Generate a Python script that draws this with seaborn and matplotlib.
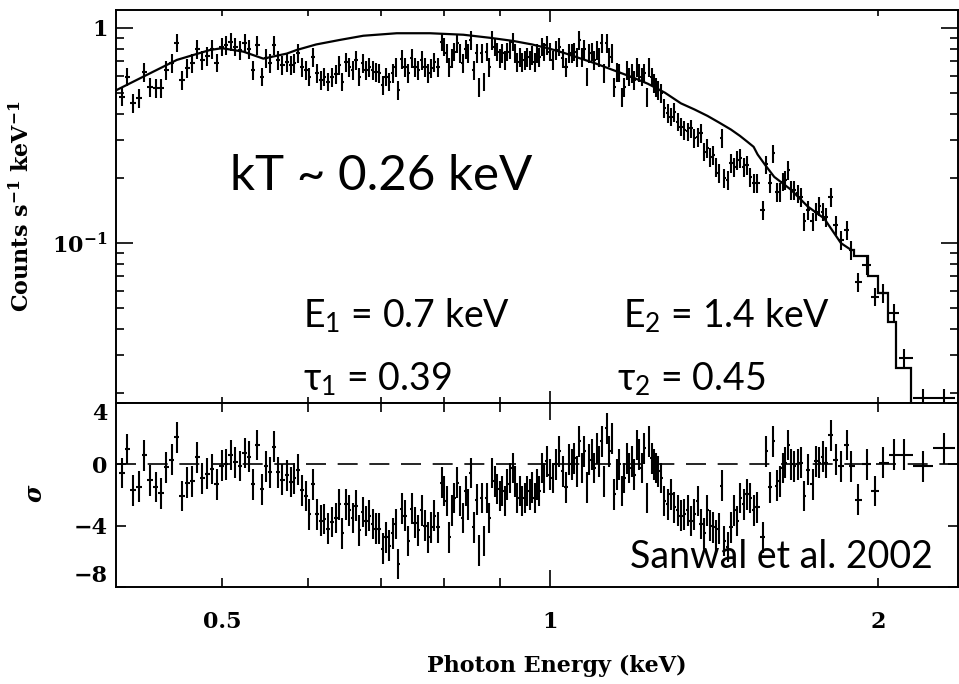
import numpy as np
import matplotlib
matplotlib.use("Agg")
import matplotlib.pyplot as plt
from matplotlib.ticker import FixedLocator, FixedFormatter, NullLocator
import seaborn as sns

# spectrum bins: energy (keV), counts s^-1 keV^-1, residual (sigma)
energy = [0.4045, 0.4093, 0.4145, 0.4196, 0.4243, 0.4294, 0.4347, 0.4395, 0.4442, 0.4496,
          0.4544, 0.4592, 0.4646, 0.4696, 0.4746, 0.4796, 0.4847, 0.4892, 0.4944, 0.4997,
          0.5042, 0.5093, 0.5143, 0.5194, 0.5246, 0.5290, 0.5342, 0.5387, 0.5438, 0.5487,
          0.5534, 0.5584, 0.5632, 0.5680, 0.5733, 0.5781, 0.5825, 0.5875, 0.5921, 0.5967,
          0.6013, 0.6064, 0.6108, 0.6160, 0.6207, 0.6259, 0.6305, 0.6358, 0.6407,
          0.6447, 0.6498, 0.6543, 0.6591, 0.6637, 0.6683, 0.6731, 0.6778, 0.6826, 0.6875,
          0.6923, 0.6972, 0.7022, 0.7071, 0.7120, 0.7172, 0.7222, 0.7257, 0.7310, 0.7361,
          0.7412, 0.7466, 0.7518, 0.7570, 0.7625, 0.7678, 0.7732, 0.7776, 0.7831, 0.7887,
          0.7954, 0.7998, 0.8039, 0.8083, 0.8129, 0.8169, 0.8221, 0.8268, 0.8315, 0.8368,
          0.8409, 0.8462, 0.8516, 0.8565, 0.8607, 0.8656, 0.8698, 0.8748, 0.8796, 0.8852,
          0.8897, 0.8946, 0.8997, 0.9041, 0.9093, 0.9137, 0.9189, 0.9242, 0.9287, 0.9332,
          0.9386, 0.9431, 0.9479, 0.9531, 0.9586, 0.9633, 0.9682, 0.9729, 0.9776, 0.9832,
          0.9880, 0.9930, 1.0000,
          1.0057, 1.0128, 1.0198, 1.0272, 1.0344, 1.0416, 1.0469, 1.0527, 1.0587, 1.0639,
          1.0700, 1.0752, 1.0813, 1.0866, 1.0928, 1.0981, 1.1044, 1.1098, 1.1155, 1.1216,
          1.1274, 1.1335, 1.1400, 1.1456, 1.1522, 1.1578, 1.1644, 1.1701, 1.1768, 1.1825,
          1.1893, 1.1951, 1.2018, 1.2077, 1.2138, 1.2205, 1.2275, 1.2335, 1.2398, 1.2466,
          1.2511, 1.2572, 1.2644,
          1.2732, 1.2824, 1.2913, 1.3004, 1.3098, 1.3190, 1.3282, 1.3378, 1.3471, 1.3565,
          1.3663, 1.3759, 1.3855, 1.3935, 1.4032, 1.4121, 1.4202, 1.4283, 1.4374, 1.4453,
          1.4557, 1.4659, 1.4762, 1.4846, 1.4950, 1.5058, 1.5163, 1.5270, 1.5380, 1.5487,
          1.5695, 1.5785, 1.5919, 1.6030, 1.6146, 1.6259, 1.6352, 1.6442, 1.6547, 1.6641,
          1.6758, 1.6879, 1.6997, 1.7116, 1.7261, 1.7422, 1.7544, 1.7667, 1.7794, 1.7918,
          1.8109, 1.8301, 1.8496, 1.8732, 1.8891, 1.9185, 1.9528, 1.9874, 2.0225, 2.0701,
          2.1143, 2.1981, 2.3008]

counts = [0.480, 0.594, 0.446, 0.471, 0.626, 0.533, 0.524, 0.524, 0.638, 0.685,
          0.855, 0.573, 0.649, 0.685, 0.800, 0.710, 0.741, 0.796, 0.690, 0.819,
          0.834, 0.864, 0.819, 0.790, 0.848, 0.800, 0.638, 0.834, 0.594, 0.723,
          0.685, 0.834, 0.710, 0.673, 0.697, 0.673, 0.685, 0.763, 0.660, 0.638,
          0.594, 0.735, 0.616, 0.573, 0.594, 0.563, 0.590, 0.610, 0.670,
          0.563, 0.697, 0.660, 0.638, 0.710, 0.594, 0.685, 0.638, 0.660, 0.638,
          0.626, 0.616, 0.543, 0.594, 0.563, 0.616, 0.660, 0.515, 0.715, 0.660,
          0.616, 0.723, 0.660, 0.638, 0.710, 0.660, 0.616, 0.649, 0.697, 0.660,
          0.864, 0.819, 0.763, 0.660, 0.723, 0.776, 0.848, 0.763, 0.685, 0.800,
          0.763, 0.880, 0.638, 0.763, 0.533, 0.763, 0.563, 0.776, 0.660, 0.880,
          0.819, 0.776, 0.723, 0.763, 0.710, 0.776, 0.800, 0.864, 0.763, 0.697,
          0.735, 0.697, 0.710, 0.735, 0.710, 0.749, 0.697, 0.763, 0.735, 0.819,
          0.776, 0.834, 0.776,
          0.710, 0.790, 0.819, 0.723, 0.660, 0.763, 0.763, 0.776, 0.735, 0.880,
          0.735, 0.800, 0.594, 0.763, 0.776, 0.710, 0.790, 0.735, 0.848, 0.616,
          0.848, 0.735, 0.763, 0.533, 0.626, 0.620, 0.479, 0.533, 0.638, 0.594,
          0.616, 0.573, 0.660, 0.620, 0.594, 0.616, 0.479, 0.660, 0.594, 0.553,
          0.533, 0.515, 0.497,
          0.423, 0.401, 0.387, 0.408, 0.367, 0.348, 0.335, 0.330, 0.341, 0.307,
          0.312, 0.324, 0.266, 0.276, 0.252, 0.257, 0.226, 0.211, 0.307, 0.200,
          0.196, 0.235, 0.226, 0.243, 0.248, 0.226, 0.231, 0.203, 0.190, 0.190,
          0.142, 0.232, 0.190, 0.261, 0.173, 0.173, 0.193, 0.197, 0.219, 0.177,
          0.177, 0.170, 0.164, 0.126, 0.142, 0.126, 0.140, 0.148, 0.140, 0.132,
          0.164, 0.121, 0.103, 0.115, 0.0927, 0.066, 0.079, 0.0563, 0.0583, 0.0471,
          0.0291, 0.0190, 0.0190]

resid = [-0.56, 1.00, -1.70, -1.46, 0.58, -1.05, -1.48, -1.90, -0.19, 0.30,
         1.76, -2.06, -1.20, -1.10, 0.45, -0.92, -0.60, -0.30, -1.30, -0.08,
         0.00, 0.60, 0.13, -0.10, 0.73, 0.50, -1.30, 1.27, -1.63, -0.13,
         -0.52, 1.16, -0.52, -1.00, -0.71, -1.16, -0.92, -0.34, -1.70, -2.06,
         -3.25, -1.30, -3.25, -3.68, -3.57, -4.20, -3.75, -3.50, -2.60,
         -4.50, -2.60, -3.00, -3.50, -2.70, -4.30, -3.10, -3.70, -3.35, -3.90,
         -4.20, -4.20, -5.50, -4.75, -5.30, -4.50, -3.90, -6.50, -2.90, -3.35,
         -5.00, -2.90, -3.80, -4.30, -3.00, -4.00, -4.75, -4.10, -3.35, -4.10,
         -1.20, -1.74, -2.40, -4.75, -3.00, -2.20, -1.20, -2.40, -3.50, -1.74,
         -2.60, -0.56, -4.10, -2.30, -5.60, -2.20, -5.00, -2.20, -3.50, -0.56,
         -1.10, -1.60, -2.06, -1.74, -2.40, -1.30, -0.90, -0.24, -1.10, -2.20,
         -1.74, -2.40, -2.20, -1.74, -1.96, -1.50, -2.20, -1.30, -1.74, -0.24,
         -0.90, 0.20, -0.67,
         -0.90, 0.00, 0.84, -0.45, -1.50, 0.30, 0.00, 0.40, -0.45, 1.50,
         -0.24, 0.84, -1.50, 0.30, 0.63, -0.24, 1.05, 0.20, 1.50, -1.10,
         2.35, 0.84, 1.70, -1.96, -0.67, 0.00, -1.74, -0.90, 0.40, -0.24,
         0.20, -0.67, 1.27, 0.63, -0.24, 1.05, -2.20, 1.50, 0.40, 0.00,
         -0.24, -0.45, -0.90,
         -2.40, -2.60, -1.96, -2.80, -3.00, -3.35, -3.25, -3.00, -3.70, -3.25,
         -2.40, -3.90, -4.50, -3.00, -4.00, -4.10, -4.65, -4.20, -1.40, -5.00,
         -5.40, -4.10, -3.00, -3.70, -2.20, -2.60, -1.96, -2.20, -3.00, -2.80,
         -4.75, 0.84, -1.50, 1.50, -1.40, -1.10, -0.24, 0.10, 1.27, 0.00,
         -0.13, 0.00, 0.10, -2.06, -0.34, -1.30, 0.20, 0.10, 0.50, 0.10,
         1.90, 0.30, -0.13, 1.27, -0.13, -2.30, 0.00, -1.74, 0.10, 0.63,
         0.63, -0.13, 1.05]

# model curve (smooth part) and its binned tail
model_e = [0.4003, 0.4234, 0.4544, 0.4875, 0.5000, 0.5230, 0.5456, 0.5733, 0.5855, 0.6100,
           0.6416, 0.6740, 0.7233, 0.7760, 0.8326, 0.8809, 0.9254, 0.9630, 1.0000, 1.0330,
           1.0677, 1.1000, 1.1448, 1.1900, 1.2301, 1.2750, 1.3190, 1.3570, 1.3951, 1.4300,
           1.4659, 1.4940, 1.5186, 1.5380, 1.5510, 1.5785, 1.6064, 1.6641, 1.7239, 1.7854,
           1.8496, 1.8891]
model_v = [0.515, 0.594, 0.710, 0.790, 0.805, 0.776, 0.720, 0.760, 0.790, 0.838,
           0.880, 0.920, 0.945, 0.945, 0.930, 0.900, 0.870, 0.838, 0.800, 0.762,
           0.720, 0.685, 0.635, 0.590, 0.550, 0.500, 0.446, 0.418, 0.390, 0.363,
           0.337, 0.315, 0.295, 0.280, 0.258, 0.228, 0.203, 0.177, 0.148, 0.130,
           0.0999, 0.093]
step_edges = [1.8891, 1.9011, 1.9581, 2.0000, 2.0427, 2.0776, 2.1445, 2.37]
step_v = [0.093, 0.0867, 0.070, 0.0583, 0.043, 0.0261, 0.012]

rel_err = 0.10

sns.set_theme(style="ticks")
plt.rcParams['font.family'] = ['DejaVu Serif']
plt.rcParams['font.weight'] = 'bold'
plt.rcParams['mathtext.fontset'] = 'dejavuserif'
plt.rcParams['axes.linewidth'] = 1.4
for key in ('axes.edgecolor', 'text.color', 'axes.labelcolor', 'xtick.color', 'ytick.color'):
    plt.rcParams[key] = 'black'

e = np.array(energy)
c = np.array(counts)
mid = np.sqrt(e[:-1] * e[1:])
lo = np.concatenate([[e[0] ** 2 / mid[0]], mid])
hi = np.concatenate([mid, [e[-1] ** 2 / mid[-1]]])
xerr = [e - lo, hi - e]

fig = plt.figure(figsize=(9.59, 6.84), dpi=100)
ax1 = fig.add_axes([0.12096, 0.41082, 0.878, 0.57456])
ax2 = fig.add_axes([0.12096, 0.14181, 0.878, 0.26901], sharex=ax1)

ax1.set_xscale('log')
ax1.set_yscale('log')
ax1.set_xlim(0.3996, 2.369)
ax1.set_ylim(0.01803, 1.212)
ax2.set_ylim(-8, 4)

# upper panel: data and model
ax1.errorbar(e, c, xerr=xerr, yerr=c * rel_err, fmt='none', ecolor='black',
             elinewidth=1.5, capsize=0)
sns.lineplot(x=model_e, y=model_v, ax=ax1, color='black', lw=1.6,
             estimator=None, sort=False)
ax1.stairs(step_v, step_edges, baseline=None, color='black', lw=1.6)

# lower panel: residuals
ax2.errorbar(e, resid, xerr=xerr, yerr=1.0, fmt='none', ecolor='black',
             elinewidth=1.5, capsize=0)
ax2.axhline(0, color='black', lw=1.2, ls=(0, (12, 7)))

# ticks
minor_x = [0.5, 0.6, 0.7, 0.8, 0.9, 2.0]
for ax in (ax1, ax2):
    ax.xaxis.set_major_locator(FixedLocator([1.0]))
    ax.xaxis.set_minor_locator(FixedLocator(minor_x))
    ax.tick_params(which='both', direction='in', top=True, right=True,
                   color='black', width=1.2, labelsize=16)
ax1.tick_params(axis='x', which='major', length=8.6, labelbottom=False)
ax1.tick_params(axis='x', which='minor', length=4.3, labelbottom=False)
ax1.yaxis.set_major_locator(FixedLocator([0.1, 1.0]))
ax1.yaxis.set_major_formatter(FixedFormatter([r'$\mathbf{10^{-1}}$', '1']))
ax1.yaxis.set_minor_locator(FixedLocator([0.02, 0.03, 0.04, 0.05, 0.06, 0.07, 0.08, 0.09,
                                          0.2, 0.3, 0.4, 0.5, 0.6, 0.7, 0.8, 0.9]))
ax1.yaxis.set_minor_formatter(FixedFormatter([''] * 16))
ax1.tick_params(axis='y', which='major', length=12.2, pad=6)
ax1.tick_params(axis='y', which='minor', length=5.8)

ax2.xaxis.set_major_formatter(FixedFormatter(['1']))
ax2.xaxis.set_minor_formatter(FixedFormatter(['0.5', '', '', '', '', '2']))
ax2.tick_params(axis='x', which='major', length=12.2, pad=17)
ax2.tick_params(axis='x', which='minor', length=6.5, pad=17, labelsize=16)
ax2.yaxis.set_major_locator(FixedLocator([-8, -4, 0, 4]))
ax2.yaxis.set_minor_locator(NullLocator())
ax2.tick_params(axis='y', which='major', length=7.2, pad=6)
ylabs = ax2.get_yticklabels()
ylabs[0].set_va('bottom')
ylabs[-1].set_va('top')

ax1.set_ylabel(r'Counts s$^{\mathbf{-1}}$ keV$^{\mathbf{-1}}$', fontsize=16,
               fontweight='bold')
ax1.yaxis.set_label_coords(-0.097, 0.5)
ax2.set_ylabel(r'$\sigma$', fontsize=17)
ax2.yaxis.set_label_coords(-0.082, 0.51)
ax2.set_xlabel('Photon Energy (keV)', fontsize=16, fontweight='bold')
ax2.xaxis.set_label_coords(0.524, -0.37)

# annotations
ann = dict(family=['Lato', 'DejaVu Sans'], fontweight='normal', color='black')
fig.text(0.2398, 0.7222, 'kT ~ 0.26 keV', fontsize=35.5, va='baseline', **ann)
fig.text(0.316, 0.5219, r'E$_\mathregular{1}$ = 0.7 keV', fontsize=27, va='baseline', **ann)
fig.text(0.316, 0.4298, r'τ$_\mathregular{1}$ = 0.39', fontsize=27, va='baseline', **ann)
fig.text(0.6496, 0.5219, r'E$_\mathregular{2}$ = 1.4 keV', fontsize=27, va='baseline', **ann)
fig.text(0.6434, 0.4298, r'τ$_\mathregular{2}$ = 0.45', fontsize=27, va='baseline', **ann)
fig.text(0.657, 0.1696, 'Sanwal et al. 2002', fontsize=27, va='baseline', **ann)

fig.savefig('out.png', dpi=100, facecolor='white')
